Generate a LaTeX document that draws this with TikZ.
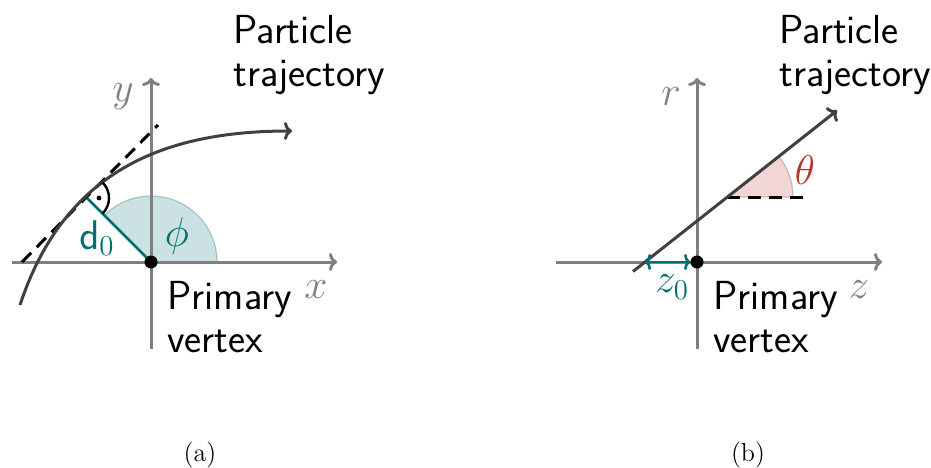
\documentclass[tikz,border=0pt]{standalone}
\usepackage{tikz}
\usetikzlibrary{arrows.meta,calc}
\definecolor{AxisGray}{HTML}{808080}
\definecolor{TrackGray}{HTML}{404040}
\definecolor{Teal}{HTML}{006E6E}
\definecolor{Crimson}{HTML}{B8322F}
\newcommand{\bigtxt}{\fontsize{20.3}{21.5}\selectfont}
\newcommand{\captxt}{\fontsize{13}{16}\selectfont}

\begin{document}
\begin{tikzpicture}[x=0.5pt,y=0.5pt,
    axis/.style={AxisGray,line width=1.5pt,-{To[length=4pt,width=9pt]}},
    track/.style={TrackGray,line width=1.5pt},
    tangent/.style={black,line width=1.5pt,dash pattern=on 6.5pt off 4pt},
    lbl/.style={font=\sffamily\bigtxt,align=left,inner sep=0pt,anchor=north west},
    var/.style={font=\bigtxt,text=AxisGray},
    vtx/.style={circle,fill=black,inner sep=0pt,minimum size=6.5pt}]
    \useasboundingbox (0,0) rectangle (931,467);
    % (a) transverse plane
    \coordinate (vtxA) at (151,205);
    \coordinate (xlo) at (12,205);
    \coordinate (xhi) at (337,205);
    \coordinate (ylo) at (151,118);
    \coordinate (yhi) at (151,389);
    \coordinate (tanA) at (87,269);
    \coordinate (dashlo) at (22,205);
    \coordinate (dashhi) at (158,342);
    \coordinate (trkA0) at (20,162);
    \coordinate (trkA1) at (292,336);
    \fill[Teal,fill opacity=.2,draw opacity=.3,draw,line width=.6pt]
        (vtxA) -- ++(66,0) arc (0:135:66) -- cycle;
    \draw[axis] (xlo) -- (xhi);
    \draw[axis] (ylo) -- (yhi);
    \draw[tangent] (dashlo) -- (dashhi);
    \draw[track,-{To[length=4pt,width=9pt]}] (trkA0) .. controls (64,295) and (162,336) .. (trkA1);
    \draw[Teal,line width=1.3pt] (vtxA) -- (tanA);
    \draw[black,line width=1.2pt] (tanA) ++(45:22) arc (45:-45:22);
    \fill ($(tanA)+(12,0)$) circle (1.2pt);
    \node[vtx] (pvA) at (vtxA) {};
    \node[var] (ylab) at (123,370) {$y$};
    \node[var] (xlab) at (316,177) {$x$};
    \node[font=\bigtxt,text=Teal] (dlab) at (97,229) {$\mathsf{d}_0$};
    \node[font=\bigtxt,text=Teal] (philab) at (177,231) {$\phi$};
    \node[lbl] (pvtxtA) at (167,186) {Primary\\vertex};
    \node[lbl] (trktxtA) at (233,452) {Particle\\trajectory};
    \node[font=\captxt] (capA) at (200,12) {(a)};
    % (b) longitudinal plane
    \coordinate (vtxB) at (697,205);
    \coordinate (zlo) at (556,205);
    \coordinate (zhi) at (882,205);
    \coordinate (rlo) at (697,118);
    \coordinate (rhi) at (697,389);
    \coordinate (zcut) at (645,205);
    \coordinate (thB) at (727,270);
    \coordinate (thend) at (806,270);
    \coordinate (trkB0) at (633,195.5);
    \coordinate (trkB1) at (837,356.5);
    \fill[Crimson,fill opacity=.2,draw=black,draw opacity=.2,line width=.6pt]
        (thB) -- ++(66,0) arc (0:38.3:66) -- cycle;
    \draw[axis] (zlo) -- (zhi);
    \draw[axis] (rlo) -- (rhi);
    \draw[tangent] (thB) -- (thend);
    \draw[track,-{To[length=4pt,width=9pt]}] (trkB0) -- (trkB1);
    \node[vtx] (pvB) at (vtxB) {};
    \draw[Teal,line width=1.3pt,{To[length=3pt,width=8pt]}-{To[length=3pt,width=8pt]}] (zcut) -- (pvB);
    \node[var] (rlab) at (671,370) {$r$};
    \node[var] (zlab) at (859,177) {$z$};
    \node[font=\bigtxt,text=Teal] (zolab) at (672,180) {$z_0$};
    \node[font=\bigtxt,text=Crimson] (thlab) at (805,297) {$\theta$};
    \node[lbl] (pvtxtB) at (713,186) {Primary\\vertex};
    \node[lbl] (trktxtB) at (779,452) {Particle\\trajectory};
    \node[font=\captxt] (capB) at (748,12) {(b)};
\end{tikzpicture}
\end{document}
